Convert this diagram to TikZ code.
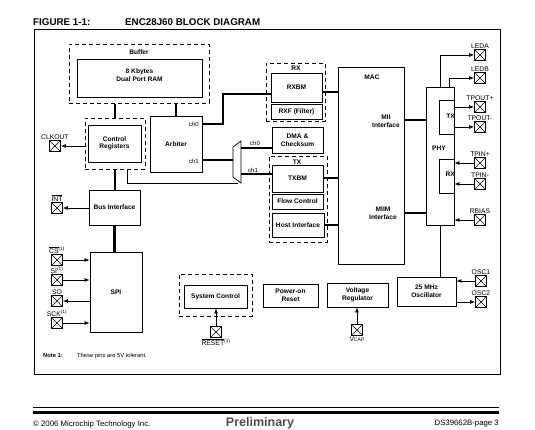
\documentclass[tikz,border=0pt]{standalone}
\usepackage{fontspec}
\setmainfont{Liberation Sans}
\usetikzlibrary{arrows.meta,calc}
\begin{document}
\begin{tikzpicture}[x=1pt,y=-1pt,
  blk/.style={draw, line width=0.8pt, inner sep=0pt, align=center, font=\bfseries\fontsize{6.6}{7.6}\selectfont},
  dbox/.style={draw, line width=1pt, dash pattern=on 4pt off 3pt, inner sep=0pt},
  lbl/.style={font=\bfseries\fontsize{6.6}{7.6}\selectfont, inner sep=0pt, align=center},
  plbl/.style={font=\fontsize{6.8}{7.5}\selectfont, inner sep=0.6pt},
  chl/.style={font=\fontsize{6}{7}\selectfont, inner sep=0pt},
  bus/.style={line width=2.8pt},
  sig/.style={line width=0.7pt},
  arr/.style={sig, -{Latex[length=5pt,width=3.8pt]}},
  pinbox/.style={draw, line width=0.7pt, minimum width=11pt, minimum height=11pt, inner sep=0pt,
    path picture={\draw[line width=0.5pt] (path picture bounding box.north west) -- (path picture bounding box.south east) (path picture bounding box.south west) -- (path picture bounding box.north east);}},
]
\useasboundingbox (0,0) rectangle (535,429);

% title
\node[anchor=west, font=\bfseries\fontsize{9.8}{11}\selectfont, inner sep=0pt] (fig) at (33,22) {FIGURE 1-1:};
\node[anchor=west, font=\bfseries\fontsize{9.8}{11}\selectfont, inner sep=0pt] (ttl) at (125,22) {ENC28J60 BLOCK DIAGRAM};

% frame
\node[draw, line width=0.8pt, minimum width=466pt, minimum height=345pt, inner sep=0pt] (frame) at (267,201.5) {};

% buffer
\node[dbox, minimum width=140pt, minimum height=59pt] (buffer) at (139,73.5) {};
\node[lbl] (bufl) at (139,52) {Buffer};
\node[blk, minimum width=125pt, minimum height=38pt] (ram) at (139.5,78) {};
\node[lbl] (raml) at (139.5,75) {8 Kbytes\\Dual Port RAM};

% control registers
\node[dbox, minimum width=60pt, minimum height=51pt] (ctrlb) at (115,143.5) {};
\node[blk, minimum width=53pt, minimum height=37pt] (ctrl) at (114.5,143.5) {Control\\Registers};

% arbiter
\node[blk, minimum width=52pt, minimum height=56pt] (arb) at (176,144) {Arbiter};
\node[chl, anchor=east] (a0l) at (199,124) {ch0};
\node[chl, anchor=east] (a1l) at (199,161) {ch1};

% bus interface, spi
\node[blk, minimum width=51pt, minimum height=35pt] (bus) at (114.5,207.5) {Bus Interface};
\node[blk, minimum width=52pt, minimum height=80pt] (spi) at (116,292) {SPI};

% system control etc.
\node[dbox, minimum width=73pt, minimum height=42pt] (sysb) at (215.5,295) {};
\node[blk, minimum width=63pt, minimum height=23pt] (sys) at (215.5,296.5) {System Control};
\node[blk, minimum width=55pt, minimum height=23pt] (por) at (290.5,295.5) {Power-on\\Reset};
\node[blk, minimum width=61pt, minimum height=24pt] (vreg) at (357.5,295) {Voltage\\Regulator};
\node[blk, minimum width=59pt, minimum height=29pt] (osc) at (426.5,291.5) {25 MHz\\Oscillator};

% RX
\node[dbox, minimum width=59pt, minimum height=58pt] (rxb) at (295.5,92) {};
\node[lbl] (rxl) at (296,68) {RX};
\node[blk, minimum width=51pt, minimum height=29pt] (rxbm) at (296.5,87.5) {RXBM};
\node[blk, minimum width=51pt, minimum height=15pt] (rxf) at (296.5,111.5) {RXF (Filter)};

% DMA
\node[blk, minimum width=51pt, minimum height=26pt] (dma) at (297.5,140) {DMA \&\\Checksum};

% TX
\node[dbox, minimum width=58pt, minimum height=86pt] (txb) at (298,199) {};
\node[lbl] (txl) at (297,162) {TX};
\node[blk, minimum width=51pt, minimum height=27pt] (txbm) at (297.5,178.5) {TXBM};
\node[blk, minimum width=51pt, minimum height=15pt] (flow) at (297.5,201.5) {Flow Control};
\node[blk, minimum width=52pt, minimum height=24pt] (host) at (298,225) {Host Interface};

% MAC
\node[blk, minimum width=66pt, minimum height=197pt] (mac) at (371,165.5) {};
\node[lbl] (macl) at (372,77) {MAC};
\node[lbl] (miil) at (386,121.5) {MII\\Interface};
\node[lbl] (miiml) at (383,213) {MIIM\\Interface};

% PHY
\node[blk, minimum width=28pt, minimum height=138pt] (phy) at (440,156) {};
\node[lbl] (phyl) at (439,148) {PHY};
\node[blk, minimum width=15pt, minimum height=34pt] (phytx) at (446.5,117) {};
\node[lbl, anchor=east] (phytxl) at (455,116) {TX};
\node[blk, minimum width=15pt, minimum height=34pt] (phyrx) at (446.5,176) {};
\node[lbl, anchor=east] (phyrxl) at (455,174) {RX};

% mux
\coordinate (muxL) at (233,160);
\coordinate (muxR0) at (241,148);
\coordinate (muxR1) at (241,174);
\coordinate (muxS) at (238,183);
\draw[sig] (233,147) -- (241,141) -- (241,183) -- (233,177) -- cycle;
\node[chl] (m0l) at (255,143) {ch0};
\node[chl] (m1l) at (253,170) {ch1};

% pins
\node[pinbox, label={[plbl]above:LEDA}] (leda) at (480,55) {};
\node[pinbox, label={[plbl]above:LEDB}] (ledb) at (480,78) {};
\node[pinbox, label={[plbl]above:TPOUT+}] (tpoutp) at (480,107) {};
\node[pinbox, label={[plbl]above:TPOUT-}] (tpoutm) at (480,127) {};
\node[pinbox, label={[plbl]above:TPIN+}] (tpinp) at (480,163) {};
\node[pinbox, label={[plbl]above:TPIN-}] (tpinm) at (480,184) {};
\node[pinbox, label={[plbl]above:RBIAS}] (rbias) at (480,220) {};
\node[pinbox, label={[plbl]above:OSC1}] (osc1) at (481,281) {};
\node[pinbox, label={[plbl]above:OSC2}] (osc2) at (481,302) {};
\node[pinbox, label={[plbl]below:{V{\fontsize{5}{6}\selectfont CAP}}}] (vcap) at (357,330) {};
\node[pinbox, label={[plbl]below:{$\overline{\hbox{RESET}}$\textsuperscript{(1)}}}] (reset) at (216,332) {};
\node[pinbox, label={[plbl]above:CLKOUT}] (clkout) at (55,146) {};
\node[pinbox, label={[plbl]above:{$\overline{\hbox{INT}}$}}] (int) at (57,208) {};
\node[pinbox, label={[plbl]above:{$\overline{\hbox{CS}}$\textsuperscript{(1)}}}] (cs) at (57,260) {};
\node[pinbox, label={[plbl]above:{SI\textsuperscript{(1)}}}] (si) at (57,280) {};
\node[pinbox, label={[plbl]above:SO}] (so) at (57,301) {};
\node[pinbox, label={[plbl]above:{SCK\textsuperscript{(1)}}}] (sck) at (57,323) {};

% thick buses
\draw[bus] (buffer.south -| ctrlb.north) -- (ctrlb.north);
\draw[bus] (buffer.south -| arb.north) -- (arb.north);
\draw[bus] (ctrlb.south) -- (ctrlb.south |- bus.north);
\draw[bus] (bus.south) -- (bus.south |- spi.north);
\draw[bus] (arb.east |- 0,124) -| (223,94) -- (rxbm.west |- 0,94);
\draw[bus] (rxbm.east |- 0,92) -- (mac.west |- 0,92);
\draw[bus] (arb.east |- muxL) -- (muxL);
\draw[bus] (muxR0) -- (dma.west |- muxR0);
\draw[bus] (muxR1) -- (txbm.west |- muxR1);
\draw[bus] (txbm.east |- 0,178) -- (mac.west |- 0,178);
\draw[bus] (host.east |- 0,225) -- (mac.west |- 0,225);
\draw[bus] (mac.east |- 0,120) -- (phy.west |- 0,120);
\draw[bus] (mac.east |- 0,213) -- (phy.west |- 0,213);

% thin signals
\draw[sig] (ctrlb.south -| 127,0) |- (muxS);
\draw[sig] (phy.south) -- (phy.south |- osc.north);
\draw[arr] (ctrlb.west |- clkout) -- (clkout.east);
\draw[arr] (bus.west |- int) -- (int.east);
\draw[arr] (cs.east) -- (spi.west |- cs);
\draw[arr] (si.east) -- (spi.west |- si);
\draw[arr] (spi.west |- so) -- (so.east);
\draw[arr] (sck.east) -- (spi.west |- sck);
\draw[arr] (reset.north) -- (sys.south -| reset);
\draw[arr] (vcap.north) -- (vreg.south -| vcap);
\draw[arr] (osc1.west) -- (osc.east |- osc1);
\draw[arr] (osc.east |- osc2) -- (osc2.west);
\draw[arr] (phy.north) |- (leda.west);
\draw[arr] ([xshift=9pt]phy.north) |- (ledb.west);
\draw[arr] (phytx.east |- tpoutp) -- (tpoutp.west);
\draw[arr] (phytx.east |- tpoutm) -- (tpoutm.west);
\draw[arr] (tpinp.west) -- (phyrx.east |- tpinp);
\draw[arr] (tpinm.west) -- (phyrx.east |- tpinm);
\draw[arr] (rbias.west) -- (phy.east |- rbias);

% note
\node[anchor=west, font=\bfseries\fontsize{5.8}{7}\selectfont, inner sep=0pt] (note) at (43,356) {Note 1:};
\node[anchor=west, font=\fontsize{5.8}{7}\selectfont, inner sep=0pt] (notet) at (77,356) {These pins are 5V tolerant.};

% footer
\draw[line width=0.8pt] (33,407) -- (499,407);
\draw[line width=2.4pt] (33,412.5) -- (499,412.5);
\node[anchor=west, font=\fontsize{7.8}{9}\selectfont, inner sep=0pt] (copy) at (33,424) {© 2006 Microchip Technology Inc.};
\node[font=\bfseries\fontsize{12.5}{14}\selectfont, text=black!70, inner sep=0pt] (prel) at (260,423) {Preliminary};
\node[anchor=east, font=\fontsize{7.8}{9}\selectfont, inner sep=0pt] (ds) at (499,424) {DS39662B-page 3};
\end{tikzpicture}
\end{document}
